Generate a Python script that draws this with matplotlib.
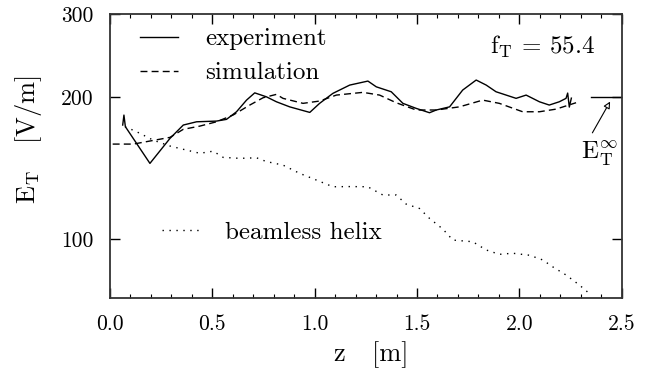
import matplotlib
matplotlib.use("Agg")
import matplotlib.pyplot as plt
from matplotlib.ticker import FixedLocator, FixedFormatter, NullLocator, MultipleLocator

plt.rcParams["font.family"] = "serif"
plt.rcParams["font.serif"] = ["cmr10"]
plt.rcParams["mathtext.fontset"] = "cm"
plt.rcParams["axes.formatter.use_mathtext"] = True

# experiment (solid)
exp_z = [0.062, 0.068, 0.075, 0.195, 0.293, 0.358, 0.423, 0.520, 0.569, 0.618,
         0.667, 0.707, 0.764, 0.813, 0.878, 0.976, 1.024, 1.089, 1.171, 1.260,
         1.301, 1.374, 1.431, 1.496, 1.561, 1.594, 1.659, 1.723, 1.789, 1.838,
         1.886, 1.984, 2.033, 2.098, 2.146, 2.195, 2.228, 2.236, 2.244, 2.254]
exp_e = [174.5, 183.2, 173.1, 144.7, 163.5, 174.5, 177.3, 177.9, 179.4, 186.2,
         197.1, 204.2, 200.3, 195.5, 190.7, 185.6, 194.0, 203.7, 212.1, 216.3,
         210.3, 205.3, 194.0, 189.3, 185.3, 187.8, 190.7, 207.0, 217.4, 212.1,
         205.3, 198.8, 202.0, 195.5, 192.4, 195.5, 198.8, 204.0, 190.5, 199.0]

# simulation (dashed)
sim_z = [0.013, 0.114, 0.195, 0.293, 0.358, 0.439, 0.520, 0.601, 0.683, 0.748,
         0.813, 0.845, 0.943, 1.024, 1.106, 1.236, 1.317, 1.398, 1.496, 1.594,
         1.707, 1.821, 1.902, 2.016, 2.098, 2.179, 2.277]
sim_e = [159.0, 159.0, 161.4, 164.3, 170.9, 173.6, 177.3, 183.2, 192.4, 199.4,
         202.7, 198.8, 194.0, 196.2, 202.0, 204.7, 202.0, 194.6, 187.8, 187.8,
         190.7, 197.1, 194.0, 186.2, 186.2, 188.6, 194.6]

# beamless helix (dotted)
helix_z = [0.073, 0.130, 0.211, 0.293, 0.358, 0.439, 0.504, 0.553, 0.634, 0.716,
           0.764, 0.845, 0.927, 1.008, 1.089, 1.171, 1.259, 1.333, 1.398, 1.447,
           1.512, 1.561, 1.626, 1.675, 1.772, 1.838, 1.902, 1.967, 2.049, 2.114,
           2.163, 2.228, 2.293, 2.341]
helix_e = [173.1, 168.9, 162.1, 157.5, 155.0, 152.0, 153.6, 149.0, 148.3, 148.7,
           146.0, 143.5, 137.8, 133.4, 129.1, 129.2, 129.1, 124.0, 124.0, 118.6,
           116.1, 110.6, 105.0, 99.5, 98.7, 94.8, 92.8, 93.3, 92.4, 90.3,
           87.3, 83.9, 79.9, 76.7]

# asymptotic field marker
einf_z = [2.35, 2.5]
einf_e = [200, 200]
f_T = 55.4

x_ticks = [0.0, 0.5, 1.0, 1.5, 2.0, 2.5]
x_labels = ["0.0", "0.5", "1.0", "1.5", "2.0", "2.5"]
y_ticks = [100, 200, 300]
y_labels = ["100", "200", "300"]

fig = plt.figure(figsize=(6.51, 3.81), dpi=100)
ax = fig.add_axes([0.169, 0.218, 0.786, 0.745])

ax.plot(exp_z, exp_e, color="black", lw=1.0)
ax.plot(sim_z, sim_e, color="black", lw=1.0, ls=(0, (5, 3)))
ax.plot(helix_z, helix_e, color="black", lw=1.0, ls=(0, (1, 4)))
ax.plot(einf_z, einf_e, color="black", lw=1.0)

ax.set_yscale("log")
ax.set_xlim(0, 2.5)
ax.set_ylim(75, 300)

ax.xaxis.set_major_locator(FixedLocator(x_ticks))
ax.xaxis.set_major_formatter(FixedFormatter(x_labels))
ax.xaxis.set_minor_locator(MultipleLocator(0.1))
ax.yaxis.set_major_locator(FixedLocator(y_ticks))
ax.yaxis.set_major_formatter(FixedFormatter(y_labels))
ax.yaxis.set_minor_locator(NullLocator())

ax.tick_params(which="both", direction="in", top=True, right=True, labelsize=15.5)
ax.tick_params(which="major", length=7, width=1.0, pad=12)
ax.tick_params(which="minor", length=3, width=0.8)
for s in ax.spines.values():
    s.set_linewidth(1.3)
    s.set_color("#333333")

# in-plot legend
tr = ax.transAxes
ax.plot([0.059, 0.133], [0.919, 0.919], color="black", lw=1.0, transform=tr)
ax.text(0.186, 0.891, "experiment", transform=tr, fontsize=18, va="baseline")
ax.plot([0.059, 0.133], [0.799, 0.799], color="black", lw=1.0, ls=(0, (5, 3)), transform=tr)
ax.text(0.186, 0.772, "simulation", transform=tr, fontsize=18, va="baseline")
ax.plot([0.102, 0.176], [0.239, 0.239], color="black", lw=1.0, ls=(0, (1, 4)), transform=tr)
ax.text(0.225, 0.207, "beamless helix", transform=tr, fontsize=18, va="baseline")

ax.text(0.947, 0.859, r"$\mathrm{f_T}$ = %.1f" % f_T, transform=tr, fontsize=18,
        ha="right", va="baseline")

ax.annotate("", xy=(2.45, 198), xytext=(2.35, 166),
            arrowprops=dict(arrowstyle="-|>", fc="white", ec="black", lw=0.8,
                            mutation_scale=10))
ax.text(0.921, 0.486, r"$\mathrm{E_T^\infty}$", transform=tr, fontsize=18, va="baseline")

fig.text(371 / 651, 1 - 355 / 381, "z   [m]", fontsize=19, ha="center", va="center")
fig.text(29 / 651, 1 - 140 / 381, r"$\mathrm{E_T}$   [V/m]", fontsize=19,
         rotation=90, ha="center", va="center")

fig.savefig("out.png", dpi=100)
